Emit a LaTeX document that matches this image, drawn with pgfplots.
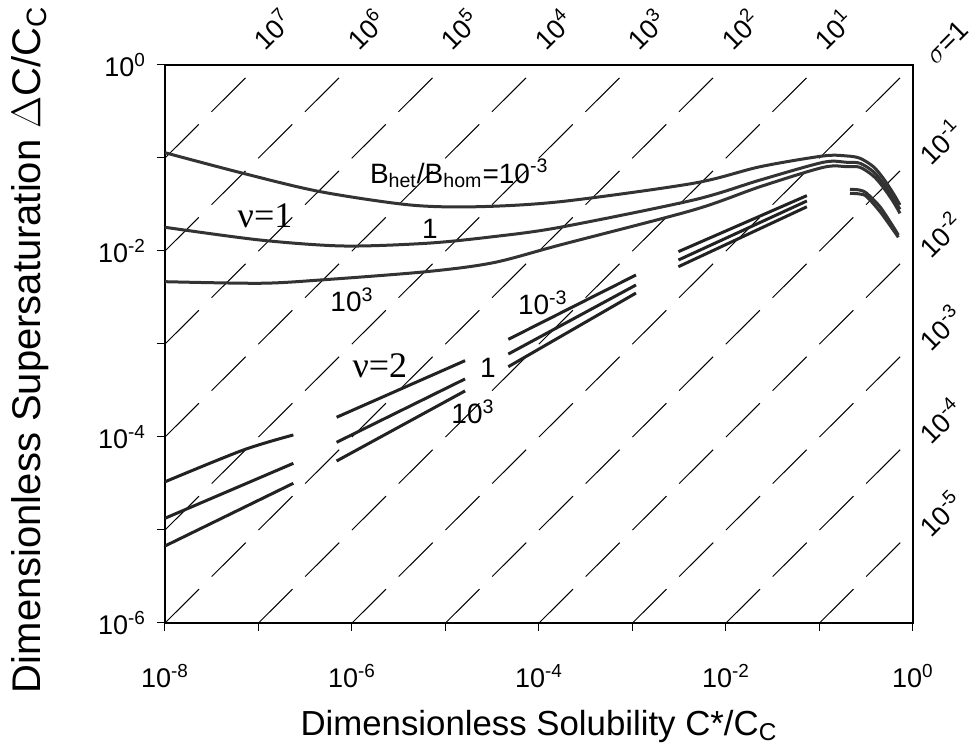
\documentclass[border=0pt]{standalone}
\usepackage{pgfplots}
\pgfplotsset{compat=1.18}
\usepackage{fontspec}
\setmainfont{Liberation Sans}
\newfontfamily\seriffont{Liberation Serif}
\usetikzlibrary{calc}
\definecolor{curve}{HTML}{333333}
\definecolor{curvetwo}{HTML}{222222}
\tikzset{
  ann/.style={font=\fontsize{14}{16}\selectfont},
  nu/.style={font=\seriffont\fontsize{18}{20}\selectfont},
  sl/.style={font=\fontsize{13.5}{15}\selectfont, rotate=45, anchor=south west, inner sep=0pt},
}

\begin{document}
\begin{tikzpicture}
\begin{axis}[
  name=ax,
  scale only axis, width=374pt, height=279pt,
  xmode=log, ymode=log,
  xmin=1e-8, xmax=1, ymin=1e-6, ymax=1,
  clip mode=individual,
  axis line style={line width=0.8pt},
  tick pos=left, tick align=outside,
  major tick length=4pt,
  every tick/.style={black, line width=0.5pt},
  xminorticks=false, yminorticks=false,
  xtick={1e-8,1e-7,1e-6,1e-5,1e-4,1e-3,1e-2,1e-1,1},
  xticklabels={10\textsuperscript{-8},{},10\textsuperscript{-6},{},10\textsuperscript{-4},{},10\textsuperscript{-2},{},10\textsuperscript{0}},
  ytick={1e-6,1e-5,1e-4,1e-3,1e-2,1e-1,1},
  yticklabels={10\textsuperscript{-6},{},10\textsuperscript{-4},{},10\textsuperscript{-2},{},10\textsuperscript{0}},
  tick label style={font=\fontsize{13.5}{15}\selectfont},
  xticklabel style={yshift=-13pt},
  yticklabel style={xshift=-2pt},
  xlabel={Dimensionless Solubility C*/C\textsubscript{C}},
  ylabel={Dimensionless Supersaturation \(\Delta\)C/C\textsubscript{C}},
  xlabel style={font=\fontsize{17.4}{19}\selectfont, at={(axis description cs:0.5,-0.185)}, anchor=center},
  ylabel style={font=\fontsize{20}{22}\selectfont, at={(axis description cs:-0.1805,0.49)}, anchor=center},
]
% sigma = const diagonal lines  (y = sigma * x)
\pgfplotsset{diag/.style={black, line width=0.5pt, dash pattern=on 24pt off 8.95pt}}
\addplot[diag] coordinates {(1e-13,1e-6) (1e-7,1)};
\addplot[diag] coordinates {(1e-12,1e-6) (1e-6,1)};
\addplot[diag] coordinates {(1e-11,1e-6) (1e-5,1)};
\addplot[diag] coordinates {(1e-10,1e-6) (1e-4,1)};
\addplot[diag] coordinates {(1e-9,1e-6) (1e-3,1)};
\addplot[diag] coordinates {(1e-8,1e-6) (1e-2,1)};
\addplot[diag] coordinates {(1e-7,1e-6) (1e-1,1)};
\addplot[diag] coordinates {(1e-6,1e-6) (1,1)};
\addplot[diag] coordinates {(1e-5,1e-6) (1e1,1)};
\addplot[diag] coordinates {(1e-4,1e-6) (1e2,1)};
\addplot[diag] coordinates {(1e-3,1e-6) (1e3,1)};
\addplot[diag] coordinates {(1e-2,1e-6) (1e4,1)};
\addplot[diag] coordinates {(1e-1,1e-6) (1e5,1)};

% nu = 1 curves
\pgfplotsset{c1/.style={curve, line width=1.5pt, smooth, tension=0.5}}
\addplot[c1] coordinates {(1e-8,0.1140) (6.87e-8,0.0684) (4.55e-7,0.0435) (4.17e-6,0.03126) (2.15e-5,0.02992) (1.68e-4,0.03388) (4.48e-3,0.05346) (0.0231,0.08054) (0.1099,0.1052) (0.195,0.1052) (0.271,0.0993) (0.377,0.0807) (0.481,0.0605) (0.615,0.0417) (0.726,0.0313)};
\addplot[c1] coordinates {(1e-8,0.01799) (1.04e-7,0.01312) (8.07e-7,0.01132) (6.30e-6,0.01211) (3.24e-5,0.01426) (1.68e-4,0.01799) (4.48e-3,0.03532) (0.0231,0.0579) (0.1099,0.0899) (0.195,0.0899) (0.271,0.0877) (0.377,0.0713) (0.481,0.0535) (0.615,0.0369) (0.726,0.02805)};
\addplot[c1] coordinates {(1e-8,0.004677) (1.04e-7,0.004498) (4.55e-7,0.004875) (6.30e-6,0.0060) (3.24e-5,0.00748) (1.68e-4,0.01161) (4.48e-3,0.0276) (0.0231,0.0491) (0.1099,0.0794) (0.195,0.0807) (0.271,0.0794) (0.377,0.0640) (0.481,0.0484) (0.615,0.0339) (0.726,0.0254)};
% high-solubility branch
\addplot[c1] coordinates {(0.212,0.0460) (0.270,0.0452) (0.320,0.0417) (0.444,0.0299) (0.615,0.01824) (0.697,0.01486)};
\addplot[c1] coordinates {(0.212,0.0417) (0.270,0.0410) (0.320,0.0384) (0.444,0.0265) (0.615,0.01683) (0.697,0.01403)};

% nu = 2 segments
\pgfplotsset{c2/.style={curvetwo, line width=1.5pt}}
\addplot[c2, smooth] coordinates {(1e-8,3.30e-5) (6.87e-8,7.24e-5) (2.36e-7,1.052e-4)};
\addplot[c2] coordinates {(1e-8,1.337e-5) (2.36e-7,5.21e-5)};
\addplot[c2] coordinates {(1e-8,6.73e-6) (2.36e-7,3.18e-5)};
\addplot[c2] coordinates {(6.85e-7,1.63e-4) (1.62e-5,6.62e-4)};
\addplot[c2] coordinates {(6.85e-7,8.77e-5) (1.62e-5,4.21e-4)};
\addplot[c2] coordinates {(6.85e-7,5.52e-5) (1.62e-5,3.13e-4)};
\addplot[c2] coordinates {(4.70e-5,1.122e-3) (1.09e-3,5.52e-3)};
\addplot[c2] coordinates {(4.70e-5,7.80e-4) (1.09e-3,4.31e-3)};
\addplot[c2] coordinates {(4.70e-5,5.70e-4) (1.09e-3,3.53e-3)};
\addplot[c2] coordinates {(3.10e-3,9.84e-3) (0.0733,0.0394)};
\addplot[c2] coordinates {(3.10e-3,8.00e-3) (0.0733,0.0345)};
\addplot[c2] coordinates {(3.10e-3,6.78e-3) (0.0733,0.0299)};

% annotations
\node[ann, anchor=base west] at (axis cs:1.31e-6,0.0538) {B\textsubscript{het}/B\textsubscript{hom}=10\textsuperscript{-3}};
\node[ann] at (axis cs:6.82e-6,0.01726) {1};
\node[ann] at (axis cs:1e-6,2.97e-3) {10\textsuperscript{3}};
\node[nu] at (axis cs:1.175e-7,0.02377) {ν=1};
\node[nu] at (axis cs:1.99e-6,5.79e-4) {ν=2};
\node[ann] at (axis cs:1.10e-4,2.76e-3) {10\textsuperscript{-3}};
\node[ann] at (axis cs:2.85e-5,5.52e-4) {1};
\node[ann] at (axis cs:1.97e-5,1.86e-4) {10\textsuperscript{3}};

% sigma labels (shift applied before rotation)
\node[xshift=3.8pt, yshift=6.3pt, sl] at (axis cs:1e-7,1) {10\textsuperscript{7}};
\node[xshift=3.8pt, yshift=6.3pt, sl] at (axis cs:1e-6,1) {10\textsuperscript{6}};
\node[xshift=3.8pt, yshift=6.3pt, sl] at (axis cs:1e-5,1) {10\textsuperscript{5}};
\node[xshift=3.8pt, yshift=6.3pt, sl] at (axis cs:1e-4,1) {10\textsuperscript{4}};
\node[xshift=3.8pt, yshift=6.3pt, sl] at (axis cs:1e-3,1) {10\textsuperscript{3}};
\node[xshift=3.8pt, yshift=6.3pt, sl] at (axis cs:1e-2,1) {10\textsuperscript{2}};
\node[xshift=3.8pt, yshift=6.3pt, sl] at (axis cs:1e-1,1) {10\textsuperscript{1}};
\node[xshift=11.5pt, yshift=-0.5pt, sl] at (axis cs:1,1) {\(\sigma\)=1};
\node[xshift=9.5pt, yshift=-4.75pt, sl] at (axis cs:1,1e-1) {10\textsuperscript{-1}};
\node[xshift=9.5pt, yshift=-4.75pt, sl] at (axis cs:1,1e-2) {10\textsuperscript{-2}};
\node[xshift=9.5pt, yshift=-4.75pt, sl] at (axis cs:1,1e-3) {10\textsuperscript{-3}};
\node[xshift=9.5pt, yshift=-4.75pt, sl] at (axis cs:1,1e-4) {10\textsuperscript{-4}};
\node[xshift=9.5pt, yshift=-4.75pt, sl] at (axis cs:1,1e-5) {10\textsuperscript{-5}};
\end{axis}
\pgfresetboundingbox
\path[use as bounding box] ($(ax.south west)+(-82.5pt,-65pt)$) rectangle ($(ax.south west)+(403pt,311.5pt)$);
\end{tikzpicture}
\end{document}
